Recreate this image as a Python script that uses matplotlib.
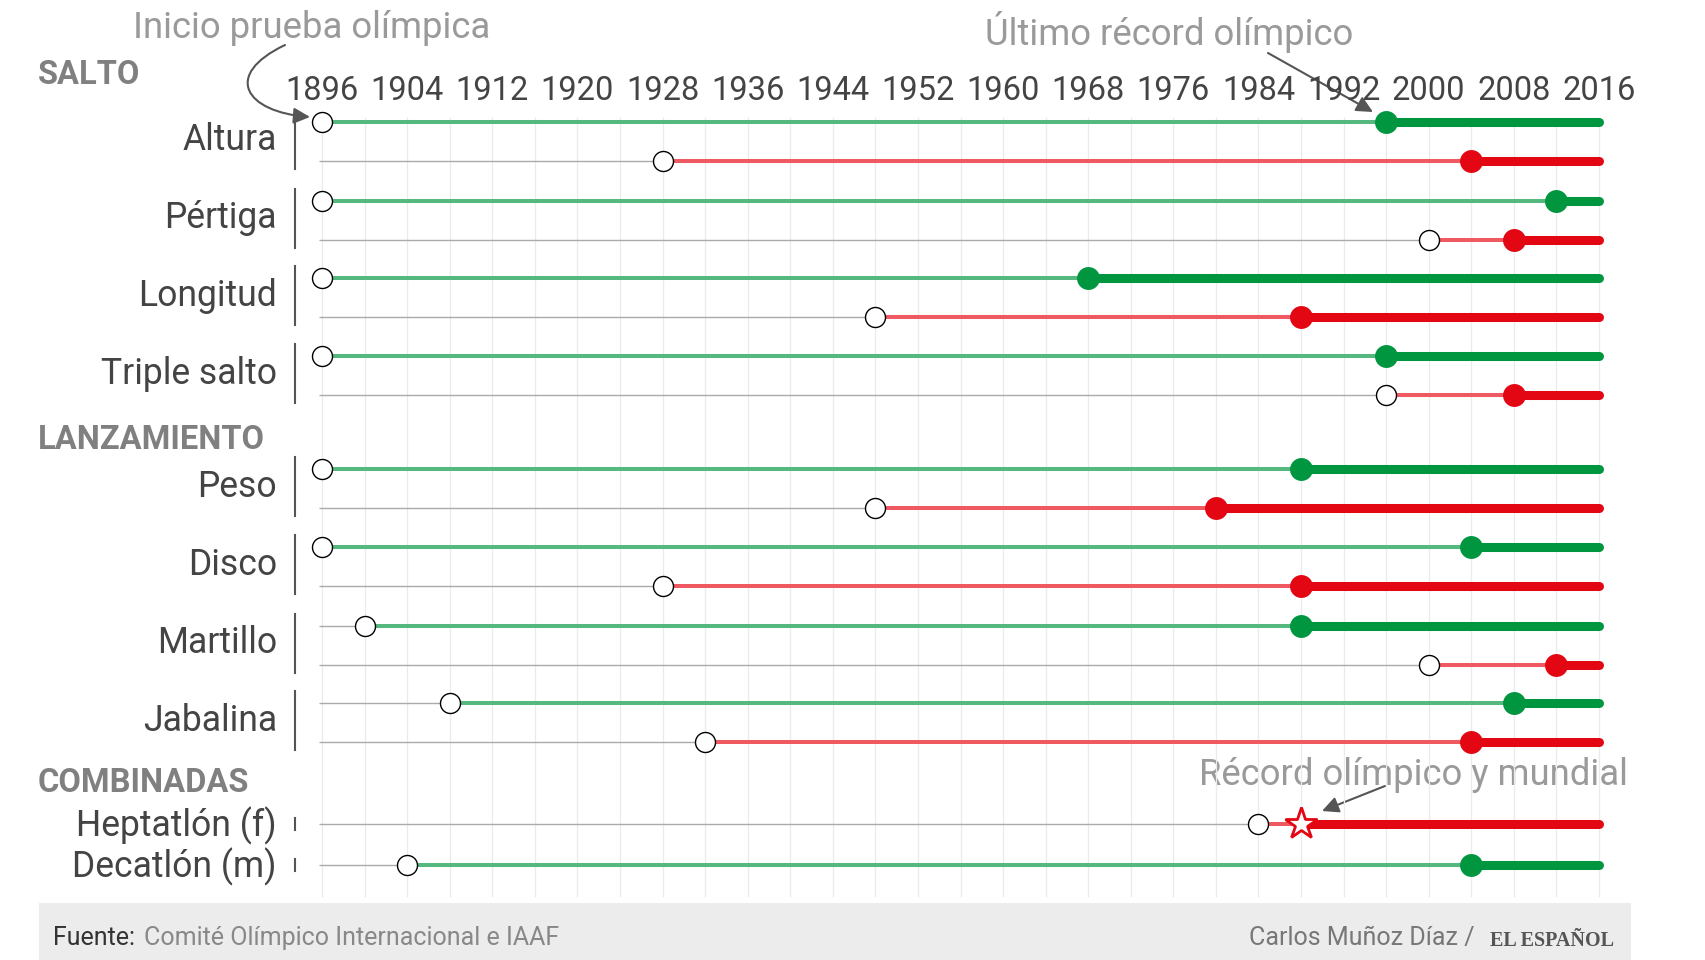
import matplotlib
matplotlib.use("Agg")
import matplotlib.pyplot as plt
import numpy as np
from matplotlib.patches import FancyArrowPatch, Rectangle
from matplotlib.path import Path

plt.rcParams['font.family'] = ['Roboto', 'DejaVu Sans']

# ---------------- data ----------------
events = ["Altura", "Pértiga", "Longitud", "Triple salto",
          "Peso", "Disco", "Martillo", "Jabalina"]
men_start = [1896, 1896, 1896, 1896, 1896, 1896, 1900, 1908]
men_record = [1996, 2012, 1968, 1996, 1988, 2004, 1988, 2008]
women_start = [1928, 2000, 1948, 1996, 1948, 1928, 2000, 1932]
women_record = [2004, 2008, 1988, 2008, 1980, 1988, 2012, 2004]

combined = ["Heptatlón (f)", "Decatlón (m)"]
combined_sex = ["f", "m"]
combined_start = [1984, 1904]
combined_record = [1988, 2004]
combined_world_record = [True, False]

tick_years = [1896, 1904, 1912, 1920, 1928, 1936, 1944, 1952,
              1960, 1968, 1976, 1984, 1992, 2000, 2008, 2016]
grid_years = list(range(1896, 2017, 4))
last_year = 2016

# ---------------- layout ----------------
W, H = 1706, 960
X0_PX, X1_PX = 322, 1599
ppy = (X1_PX - X0_PX) / (last_year - 1896)
row_y_m = [122, 200.5, 278, 356, 469, 547, 625.5, 703]
row_gap = 39.3
combined_y = [824, 865]
header_pos = {"SALTO": 84, "LANZAMIENTO": 449, "COMBINADAS": 792}

GREEN_D, GREEN_L = "#009640", "#55b97f"
RED_D, RED_L = "#e30613", "#ee5962"
GRAY_LINE = "#aaaaaa"

fig = plt.figure(figsize=(W / 100, H / 100), dpi=100)
axp = fig.add_axes([0, 0, 1, 1])
axp.set_xlim(0, W)
axp.set_ylim(H, 0)
axp.axis("off")

ax = fig.add_axes([0, 0, 1, 1], facecolor="none")
ax.set_xlim(1896 - X0_PX / ppy, last_year + (W - X1_PX) / ppy)
ax.set_ylim(H, 0)
ax.axis("off")

line_start = 1896 - 3 / ppy

# grid
ax.vlines(grid_years, 117, 897, color="#ebebeb", lw=0.9, zorder=0)

# tick labels
for yr in tick_years:
    ax.text(yr, 100, str(yr), ha="center", va="baseline", fontsize=23.5, color="#444444")


def draw_row(y, start, record, dark, light, star=False):
    if start > 1896:
        ax.plot([line_start, start], [y, y], color=GRAY_LINE, lw=1.0,
                solid_capstyle="butt", zorder=1)
    ax.plot([start, record], [y, y], color=light, lw=2.9,
            solid_capstyle="butt", zorder=2)
    ax.plot([record, last_year], [y, y], color=dark, lw=6.5,
            solid_capstyle="round", zorder=3)
    if star:
        ax.plot(record, y, marker="*", ms=24, mfc="white", mec=dark, mew=2, zorder=5)
    else:
        ax.plot(record, y, marker="o", ms=16.5, color=dark, mew=0, zorder=5)
    ax.plot(start, y, marker="o", ms=14.4, mfc="white", mec="black", mew=1.0, zorder=6)


for i, ev in enumerate(events):
    ym = row_y_m[i]
    yw = ym + row_gap
    draw_row(ym, men_start[i], men_record[i], GREEN_D, GREEN_L)
    draw_row(yw, women_start[i], women_record[i], RED_D, RED_L)
    axp.text(277, (ym + yw) / 2 + 8, ev, ha="right", va="baseline",
             fontsize=25.6, color="#444444")
    axp.plot([295, 295], [ym - 12, yw + 8], color="#555555", lw=1.5)

for j, ev in enumerate(combined):
    y = combined_y[j]
    if combined_sex[j] == "f":
        dark, light = RED_D, RED_L
    else:
        dark, light = GREEN_D, GREEN_L
    draw_row(y, combined_start[j], combined_record[j], dark, light,
             star=combined_world_record[j])
    axp.text(277, y + 12, ev, ha="right", va="baseline", fontsize=25.6, color="#444444")
    axp.plot([295, 295], [y - 6, y + 6], color="#555555", lw=1.5)

for name, yb in header_pos.items():
    axp.text(38, yb, name, ha="left", va="baseline", fontsize=23.5,
             fontweight="bold", color="#808080")

# annotations
ann_color = "#9a9a9a"
axp.text(133, 38, "Inicio prueba olímpica", ha="left", va="baseline",
         fontsize=26.3, color=ann_color)
axp.text(985, 45, "Último récord olímpico", ha="left", va="baseline",
         fontsize=26.3, color=ann_color)
axp.text(1199, 785, "Récord olímpico y mundial", ha="left", va="baseline",
         fontsize=26.3, color=ann_color)

curve = Path([(285, 45), (222, 75), (245, 112), (310, 117)],
             [Path.MOVETO, Path.CURVE4, Path.CURVE4, Path.CURVE4])
axp.add_patch(FancyArrowPatch(path=curve, arrowstyle="-|>,head_length=0.45,head_width=0.22",
                              mutation_scale=22, color="#555555", lw=1.5,
                              transform=axp.transData, zorder=10))
axp.add_patch(FancyArrowPatch((1268, 53), (1373, 112),
                              arrowstyle="-|>,head_length=0.45,head_width=0.22",
                              mutation_scale=22, color="#555555", lw=1.5,
                              shrinkA=0, shrinkB=0, zorder=10))
axp.add_patch(FancyArrowPatch((1385, 786), (1322, 811),
                              arrowstyle="-|>,head_length=0.45,head_width=0.22",
                              mutation_scale=22, color="#555555", lw=1.5,
                              shrinkA=0, shrinkB=0, zorder=10))

# footer
axp.add_patch(Rectangle((39, 903), 1631 - 39, 60, facecolor="#ececec",
                        edgecolor="none", zorder=0))
axp.text(53, 945, "Fuente:", ha="left", va="baseline", fontsize=18, color="#333333")
axp.text(144, 945, "Comité Olímpico Internacional e IAAF", ha="left",
         va="baseline", fontsize=18, color="#888888")
axp.text(1475, 945, "Carlos Muñoz Díaz /", ha="right", va="baseline",
         fontsize=18, color="#777777")
axp.text(1490, 946, "EL ESPAÑOL", ha="left", va="baseline", fontsize=14.5,
         fontweight="bold", color="#555555", family=["Liberation Serif", "DejaVu Serif"])

fig.savefig("out.png", dpi=100, facecolor="white")
